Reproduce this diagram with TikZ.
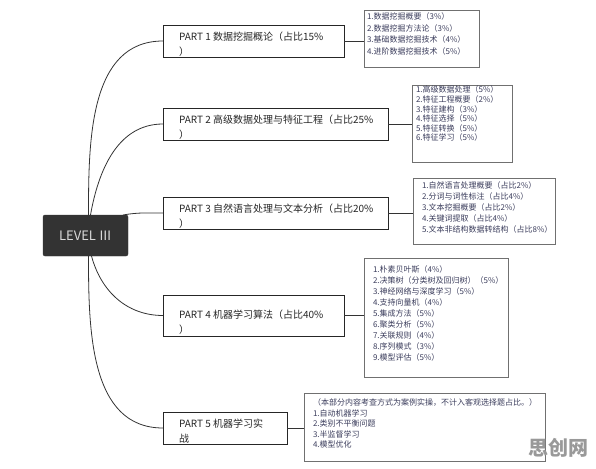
\documentclass[tikz,border=0pt]{standalone}
\usepackage{fontspec}
\setmainfont{Noto Sans CJK SC}
\usetikzlibrary{positioning}

\definecolor{lvlfill}{HTML}{333333}
\definecolor{itemink}{HTML}{3B3D5C}
\definecolor{boxline}{HTML}{707070}

\begin{document}
\begin{tikzpicture}[
		x=1pt, y=-1pt,
		every node/.style={inner sep=0pt, outer sep=0pt},
		level/.style={
			fill=lvlfill,
			draw=lvlfill,
			rounded corners=2pt,
			text=white!85!black,
			minimum width=85pt,
			minimum height=41pt,
			font=\fontsize{13}{15}\selectfont
		},
		partbox/.style={draw=black!85, line width=0.8pt, anchor=north west},
		parttext/.style={anchor=north west, align=left, text=black!85,
			font=\fontsize{10}{15}\selectfont},
		itembox/.style={draw=boxline, line width=0.5pt, anchor=north west},
		itemtext/.style={anchor=north west, align=left, text=itemink,
			font=\fontsize{8}{11}\selectfont},
		branch/.style={draw=black!80, line width=0.8pt},
		twig/.style={draw=black!80, line width=0.7pt}
		]
		
		\useasboundingbox (0,0) rectangle (596,468);
		
		%--------------------------------------------------
		% Root
		%--------------------------------------------------
		
		\node[level] (lvl) at (85.5,235.5) {LEVEL Ⅲ};
		
		%--------------------------------------------------
		% Parts
		%--------------------------------------------------
		
		\node[partbox, minimum width=181pt, minimum height=32pt] (p1) at (163,25) {};
		\node[parttext] (p1txt) at ([xshift=16pt,yshift=-7pt]p1.north west)
		{PART 1 数据挖掘概论（占比15\%\\）};
		
		\node[partbox, minimum width=225pt, minimum height=32pt] (p2) at (163,108) {};
		\node[parttext] (p2txt) at ([xshift=16pt,yshift=-7pt]p2.north west)
		{PART 2 高级数据处理与特征工程（占比25\%\\）};
		
		\node[partbox, minimum width=225pt, minimum height=32pt] (p3) at (163,197) {};
		\node[parttext] (p3txt) at ([xshift=16pt,yshift=-7pt]p3.north west)
		{PART 3 自然语言处理与文本分析（占比20\%\\）};
		
		\node[partbox, minimum width=181pt, minimum height=41pt] (p4) at (163,295) {};
		\node[parttext] (p4txt) at ([xshift=16pt,yshift=-15pt]p4.north west)
		{PART 4 机器学习算法（占比40\%\\）};
		
		\node[partbox, minimum width=124pt, minimum height=32pt] (p5) at (163,412) {};
		\node[parttext] (p5txt) at ([xshift=16pt,yshift=-7pt]p5.north west)
		{PART 5 机器学习实\\战};
		
		%--------------------------------------------------
		% Details
		%--------------------------------------------------
		
		\node[itembox, minimum width=115pt, minimum height=57pt] (d1) at (364,10) {};
		\node[itemtext, font=\fontsize{8}{11.5}\selectfont] (d1txt)
		at ([xshift=3pt,yshift=-3pt]d1.north west)
		{1.数据挖掘概要（3\%）\\2.数据挖掘方法论（3\%）\\3.基础数据挖掘技术（4\%）\\4.进阶数据挖掘技术（5\%）};
		
		\node[itembox, minimum width=100pt, minimum height=77pt] (d2) at (412,85) {};
		\node[itemtext, font=\fontsize{8}{9.6}\selectfont] (d2txt)
		at ([xshift=4pt,yshift=-1pt]d2.north west)
		{1.高级数据处理（5\%）\\2.特征工程概要（2\%）\\3.特征建构（3\%）\\4.特征选择（5\%）\\5.特征转换（5\%）\\6.特征学习（5\%）};
		
		\node[itembox, minimum width=142pt, minimum height=66pt] (d3) at (413,178) {};
		\node[itemtext] (d3txt) at ([xshift=9pt,yshift=-4pt]d3.north west)
		{1.自然语言处理概要（占比2\%）\\2.分词与词性标注（占比4\%）\\3.文本挖掘概要（占比2\%）\\4.关键词提取（占比4\%）\\5.文本非结构数据转结构（占比8\%）};
		
		\node[itembox, minimum width=144pt, minimum height=119pt] (d4) at (364,258) {};
		\node[itemtext] (d4txt) at ([xshift=9pt,yshift=-8pt]d4.north west)
		{1.朴素贝叶斯（4\%）\\2.决策树（分类树及回归树）（5\%）\\3.神经网络与深度学习（5\%）\\4.支持向量机（4\%）\\5.集成方法（5\%）\\6.聚类分析（5\%）\\7.关联规则（4\%）\\8.序列模式（3\%）\\9.模型评估（5\%）};
		
		\node[itembox, minimum width=241pt, minimum height=68pt] (d5) at (304,393) {};
		\node[itemtext, font=\fontsize{8}{10.5}\selectfont] (d5txt)
		at ([xshift=9pt,yshift=-6pt]d5.north west)
		{（本部分内容考查方式为案例实操，不计入客观选择题占比。）\\1.自动机器学习\\2.类别不平衡问题\\3.半监督学习\\4.模型优化};
		
		\node[font=\fontsize{20}{20}\selectfont\bfseries, text=black!40] (mark) at (558,448) {思创网};
		
		%--------------------------------------------------
		% Branches
		%--------------------------------------------------
		
		\draw[branch] ([xshift=3pt]lvl.north) to[out=90,in=180] (p1.west);
		\draw[branch] ([xshift=5pt]lvl.north) to[out=80,in=180] (p2.west);
		\draw[branch] ([xshift=-5pt]lvl.north east) to[out=10,in=180] (p3.west);
		\draw[branch] ([xshift=6pt]lvl.south) to[out=-75,in=180] (p4.west);
		\draw[branch] ([xshift=3pt]lvl.south) to[out=-90,in=180] (p5.west);
		
		\draw[twig] (p1.east) -- (p1.east -| d1.west);
		\draw[twig] (p2.east) -- (p2.east -| d2.west);
		\draw[twig] (p3.east) -- (p3.east -| d3.west);
		\draw[twig] (p4.east) -- (p4.east -| d4.west);
		\draw[twig] (p5.east) -- (p5.east -| d5.west);
		
	\end{tikzpicture}
\end{document}
